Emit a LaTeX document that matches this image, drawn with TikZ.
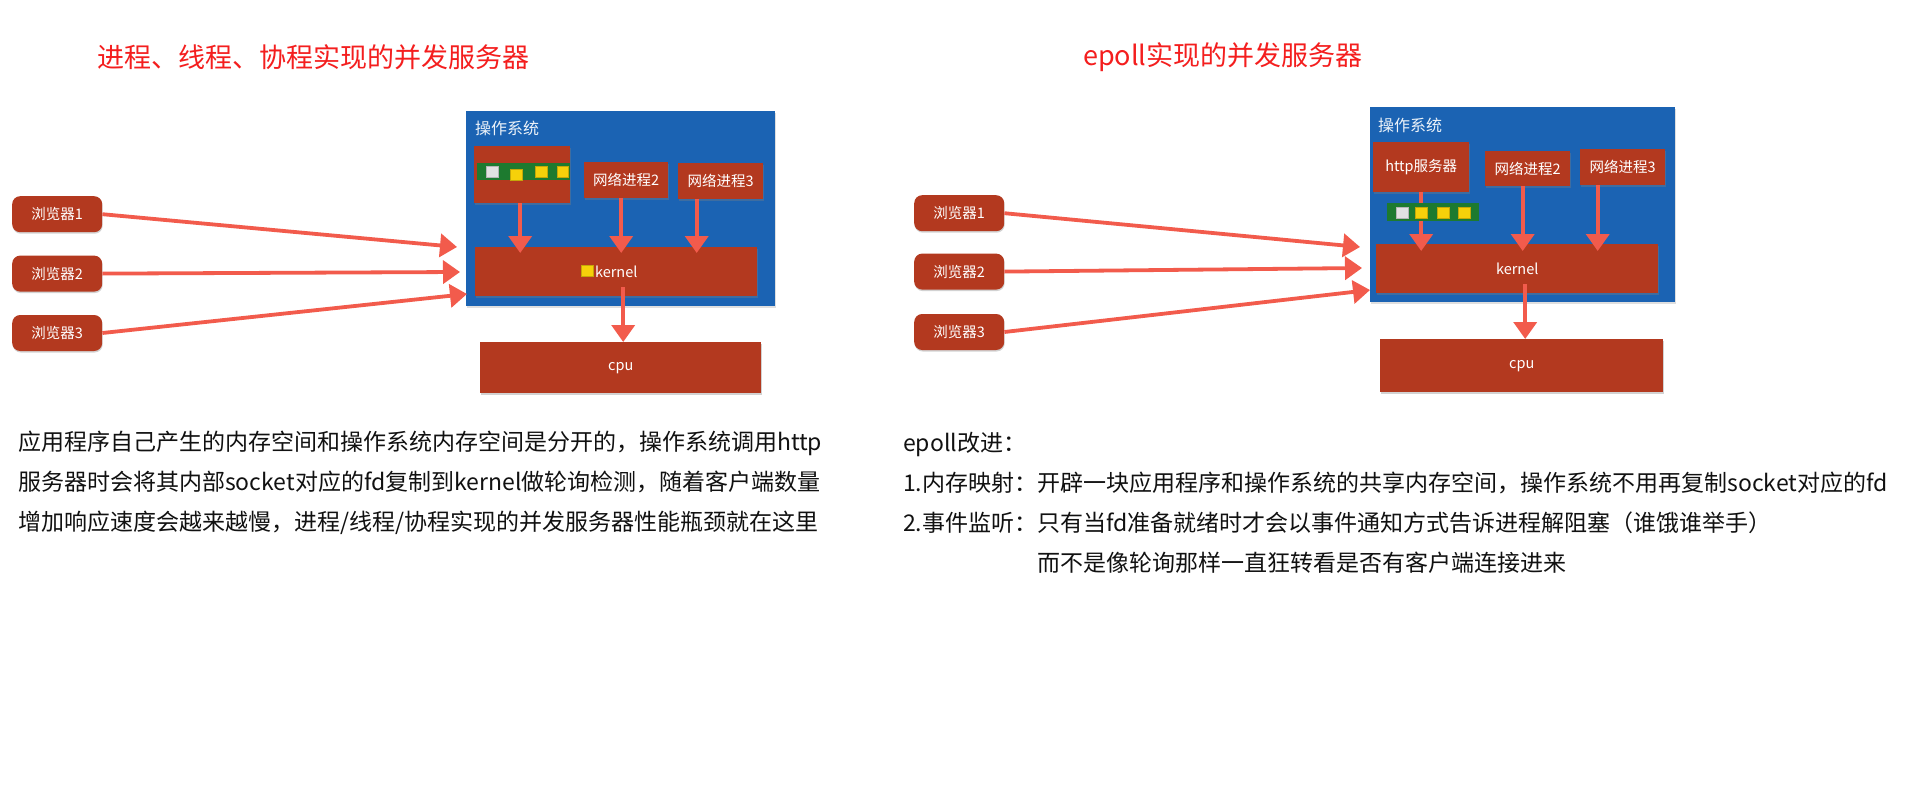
\documentclass[tikz,border=0pt]{standalone}
\usepackage{fontspec}
\setmainfont{Noto Sans CJK SC}
\usepackage{xcolor}
\usetikzlibrary{
  arrows.meta,
  positioning,
  shadows
}
\definecolor{osblue}{HTML}{1B63B3}
\definecolor{procred}{HTML}{B3391F}
\definecolor{arrowred}{HTML}{F25B4C}
\definecolor{queuegreen}{HTML}{1D7A2F}
\definecolor{slotyellow}{HTML}{F6D10A}
\definecolor{slotwhite}{HTML}{E2E2E2}
\definecolor{titlered}{HTML}{F41E1E}
\definecolor{bodytext}{HTML}{111111}
\tikzset{
  osbox/.style={
    rectangle, fill=osblue, anchor=north west, inner sep=0pt,
    drop shadow={shadow xshift=1pt, shadow yshift=-1.5pt, opacity=0.25}
  },
  ostitle/.style={
    anchor=west, inner sep=0pt, text=white!92!osblue,
    font=\fontsize{16}{18}\selectfont
  },
  procbox/.style={
    rectangle, fill=procred, text=white, anchor=north west, inner sep=0pt,
    font=\fontsize{14.5}{16}\selectfont,
    drop shadow={shadow xshift=0.5pt, shadow yshift=-1.5pt, opacity=0.35}
  },
  browser/.style={
    procbox, rounded corners=8pt, minimum width=90pt, minimum height=36pt
  },
  queue/.style={
    rectangle, fill=queuegreen, anchor=north west, inner sep=0pt
  },
  slot/.style={
    rectangle, fill=#1, draw=#1!80!black, line width=0.4pt,
    minimum width=12pt, minimum height=11pt, inner sep=0pt
  },
  flow/.style={
    -{Triangle[length=17pt, width=23pt]}, line width=3.8pt, color=arrowred
  },
  heading/.style={
    anchor=west, inner sep=0pt, text=titlered,
    font=\fontsize{27}{30}\selectfont
  },
  bodypara/.style={
    anchor=west, inner sep=0pt, align=left, text=bodytext,
    font=\fontsize{23}{40}\selectfont
  },
}

\begin{document}
\begin{tikzpicture}[x=1pt, y=-1pt]
  \useasboundingbox (0,0) rectangle (1910,805);
  \fill[white] (0,0) rectangle (1910,805);

  %% Left: process / thread / coroutine server
  \node[heading] (ttl1) at (97,57) {进程、线程、协程实现的并发服务器};

  \node[osbox, minimum width=309pt, minimum height=195pt] (os1) at (466,111) {};
  \node[ostitle] (osl1) at (475,128) {操作系统};

  \node[procbox, minimum width=96pt, minimum height=57pt] (srv1) at (474,146) {};
  \node[procbox, minimum width=84pt, minimum height=36pt] (net12) at (584,162) {网络进程2};
  \node[procbox, minimum width=85pt, minimum height=36pt] (net13) at (678,163) {网络进程3};
  \node[procbox, minimum width=282pt, minimum height=49pt] (ker1) at (475,247) {kernel};
  \node[procbox, minimum width=281pt, minimum height=51pt] (cpu1) at (480,342) {cpu};

  \node[queue, minimum width=93pt, minimum height=17pt] (q1) at (477,163) {};
  \node[slot=slotwhite]  (s11) at (492,172) {};
  \node[slot=slotyellow] (s12) at (516,175) {};
  \node[slot=slotyellow] (s13) at (541,172) {};
  \node[slot=slotyellow, minimum width=11pt] (s14) at (563,172) {};
  \node[slot=slotyellow] (k1) at (587,271) {};

  \node[browser] (br11) at (12,196) {浏览器1};
  \node[browser, below=23pt of br11] (br12) {浏览器2};
  \node[browser, below=23pt of br12] (br13) {浏览器3};

  \coordinate (in11) at (457,247);
  \coordinate (in12) at (460,272);
  \coordinate (in13) at (467,294);

  \draw[flow] (br11.east) -- (in11);
  \draw[flow] (br12.east) -- (in12);
  \draw[flow] (br13.east) -- (in13);

  \draw[flow, shorten >=-6pt] ([xshift=-2pt]srv1.south) -- ([xshift=-2pt]srv1.south |- ker1.north);
  \draw[flow, shorten >=-6pt] ([xshift=-5pt]net12.south) -- ([xshift=-5pt]net12.south |- ker1.north);
  \draw[flow, shorten >=-6pt] ([xshift=-24pt]net13.south) -- ([xshift=-24pt]net13.south |- ker1.north);
  \draw[flow] ([xshift=7pt, yshift=9pt]ker1.south) -- ([xshift=7pt]ker1.south |- cpu1.north);

  %% Right: epoll server
  \node[heading] (ttl2) at (1083,57) {epoll实现的并发服务器};

  \node[osbox, minimum width=305pt, minimum height=195pt] (os2) at (1370,107) {};
  \node[ostitle] (osl2) at (1378,125) {操作系统};

  \node[procbox, minimum width=96pt, minimum height=50pt] (srv2) at (1373,142) {http服务器};
  \node[procbox, minimum width=85pt, minimum height=35pt] (net22) at (1485,151) {网络进程2};
  \node[procbox, minimum width=85pt, minimum height=36pt] (net23) at (1580,149) {网络进程3};
  \node[procbox, minimum width=282pt, minimum height=49pt] (ker2) at (1376,244) {kernel};
  \node[procbox, minimum width=283pt, minimum height=53pt] (cpu2) at (1380,339) {cpu};

  \draw[flow, shorten >=-7pt] (srv2.south) -- (srv2.south |- ker2.north);

  \node[queue, minimum width=92pt, minimum height=18pt] (q2) at (1387,203) {};
  \node[slot=slotwhite]  (s21) at (1402,212.5) {};
  \node[slot=slotyellow] (s22) at (1421.5,212.5) {};
  \node[slot=slotyellow] (s23) at (1443,212.5) {};
  \node[slot=slotyellow] (s24) at (1464.5,212.5) {};

  \node[browser] (br21) at (914,195) {浏览器1};
  \node[browser, below=22pt of br21] (br22) {浏览器2};
  \node[browser, below=24pt of br22] (br23) {浏览器3};

  \coordinate (in21) at (1360,247);
  \coordinate (in22) at (1362,268);
  \coordinate (in23) at (1370,290);

  \draw[flow] (br21.east) -- (in21);
  \draw[flow] (br22.east) -- (in22);
  \draw[flow] (br23.east) -- (in23);

  \draw[flow, shorten >=-7pt] ([xshift=-5pt]net22.south) -- ([xshift=-5pt]net22.south |- ker2.north);
  \draw[flow, shorten >=-7pt] ([xshift=-25pt]net23.south) -- ([xshift=-25pt]net23.south |- ker2.north);
  \draw[flow] ([xshift=8pt, yshift=9pt]ker2.south) -- ([xshift=8pt]ker2.south |- cpu2.north);

  %% Notes under the pictures
  \node[bodypara] (txt1) at (18,483) {%
    应用程序自己产生的内存空间和操作系统内存空间是分开的，操作系统调用http\\
    服务器时会将其内部socket对应的fd复制到kernel做轮询检测，随着客户端数量\\
    增加响应速度会越来越慢，进程/线程/协程实现的并发服务器性能瓶颈就在这里};
  \node[bodypara] (txt2) at (903,503) {%
    epoll改进：\\
    1.内存映射：开辟一块应用程序和操作系统的共享内存空间，操作系统不用再复制socket对应的fd\\
    2.事件监听：只有当fd准备就绪时才会以事件通知方式告诉进程解阻塞（谁饿谁举手）\\
    \phantom{2.事件监听：}而不是像轮询那样一直狂转看是否有客户端连接进来};

\end{tikzpicture}
\end{document}
